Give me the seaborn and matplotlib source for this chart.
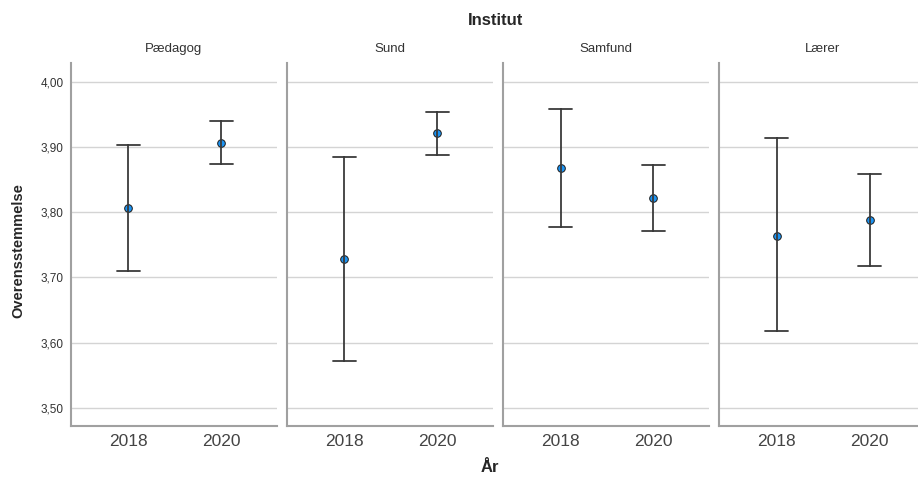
import matplotlib.pyplot as plt
import pandas as pd
import seaborn as sns

# Values: mean and error bar ends per institute and year
institutes = ["Pædagog", "Sund", "Samfund", "Lærer"]
years = ["2018", "2020"]
means = {"Pædagog": [3.807, 3.906], "Sund": [3.729, 3.922],
         "Samfund": [3.868, 3.822], "Lærer": [3.764, 3.788]}
lower = {"Pædagog": [3.710, 3.874], "Sund": [3.572, 3.888],
         "Samfund": [3.777, 3.771], "Lærer": [3.617, 3.717]}
upper = {"Pædagog": [3.903, 3.940], "Sund": [3.885, 3.954],
         "Samfund": [3.958, 3.873], "Lærer": [3.914, 3.859]}
yticks = [3.5, 3.6, 3.7, 3.8, 3.9, 4.0]
ytick_labels = ["3,50", "3,60", "3,70", "3,80", "3,90", "4,00"]

# long table: lower / mean / upper per group, median = mean, min-max = bar
rows = []
for inst in institutes:
    for i, yr in enumerate(years):
        for v in (lower[inst][i], means[inst][i], upper[inst][i]):
            rows.append({"Institut": inst, "År": yr, "value": v})
df = pd.DataFrame(rows)

sns.set_style("white")
plt.rcParams['font.family'] = ['Liberation Sans', 'DejaVu Sans']

fig, axes = plt.subplots(1, 4, figsize=(9.18, 4.78), dpi=100, sharey=True)
fig.subplots_adjust(left=0.077, right=1.008, top=0.868, bottom=0.109, wspace=0.048)

for ax, inst in zip(axes, institutes):
    sns.pointplot(data=df[df.Institut == inst], x="År", y="value", order=years,
                  estimator="median", errorbar=lambda v: (v.min(), v.max()),
                  linestyle="none", marker="o", color="#1a8ce6", markersize=5.5,
                  markerfacecolor="#1c93f2", markeredgecolor="#1a1a1a", markeredgewidth=0.7,
                  capsize=0.25, err_kws={"color": "#3a3a3a", "linewidth": 1.3}, ax=ax)
    ax.set_xlim(-0.62, 1.6)
    ax.set_ylim(3.472, 4.029)
    ax.set_yticks(yticks)
    ax.yaxis.grid(True, color="#d4d4d4", linewidth=1)
    ax.set_axisbelow(True)
    for s in ["top", "right"]:
        ax.spines[s].set_visible(False)
    for s in ["left", "bottom"]:
        ax.spines[s].set_color("#a0a0a0")
        ax.spines[s].set_linewidth(1.5)
    ax.tick_params(axis="x", length=0, pad=6, labelsize=12.5, labelcolor="#444444")
    ax.tick_params(axis="y", length=0, pad=5, labelsize=8.5, labelcolor="#333333")
    ax.set_xlabel("")
    ax.set_ylabel("")
    ax.set_title(inst, fontsize=9.5, color="#333333", pad=8)

axes[0].set_yticklabels(ytick_labels)

fig.text(0.54, 0.958, "Institut", ha="center", va="center", fontsize=12, fontweight="bold")
fig.text(0.534, 0.021, "År", ha="center", va="center", fontsize=12, fontweight="bold")
fig.text(0.02, 0.475, "Overensstemmelse", ha="center", va="center", rotation=90,
         fontsize=10.5, fontweight="bold")

fig.savefig("out.png", dpi=100)
